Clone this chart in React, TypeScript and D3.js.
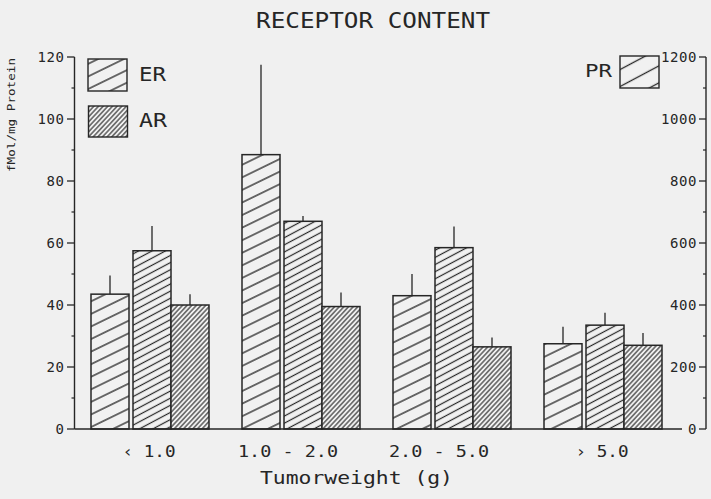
import React from "react";
import * as d3 from "d3";

// Tumour weight classes (g)
const groups = ["‹ 1.0", "1.0 - 2.0", "2.0 - 5.0", "› 5.0"];

// Receptor content, mean and standard error (fmol/mg protein)
const erMean = [43.5, 88.5, 43, 27.5];
const erSem = [6, 29, 7, 5.5];
const prMean = [575, 670, 585, 335];
const prSem = [80, 17, 68, 40];
const arMean = [40, 39.5, 26.5, 27];
const arSem = [3.5, 4.5, 3, 4];

const leftTicks = [0, 20, 40, 60, 80, 100, 120];
const leftMinor = [10, 30, 50, 70, 90, 110];
const rightTicks = [0, 200, 400, 600, 800, 1000, 1200];
const rightMinor = [100, 300, 500, 700, 900, 1100];

const W = 711;
const H = 499;
const INK = "#262626";
const FONT = "'DejaVu Sans Mono', monospace";

const x = d3.scaleBand<string>().domain(groups).range([74.5, 678.5]);
const yL = d3.scaleLinear().domain([0, 120]).range([429, 57]);
const yR = d3.scaleLinear().domain([0, 1200]).range([429, 57]);

type Series = {
  key: string;
  mean: number[];
  sem: number[];
  scale: d3.ScaleLinear<number, number>;
  pattern: string;
  offset: number;
};

const series: Series[] = [
  { key: "ER", mean: erMean, sem: erSem, scale: yL, pattern: "hatch-er", offset: 0 },
  { key: "PR", mean: prMean, sem: prSem, scale: yR, pattern: "hatch-pr", offset: 42 },
  { key: "AR", mean: arMean, sem: arSem, scale: yL, pattern: "hatch-ar", offset: 80 },
];
const BAR_W = 38;
const GROUP_W = 118;

function Hatch({ id, gap, angle, sw = 1 }: { id: string; gap: number; angle: number; sw?: number }) {
  return (
    <pattern
      id={id}
      patternUnits="userSpaceOnUse"
      width={20}
      height={gap}
      patternTransform={`rotate(${-angle})`}
    >
      <rect width={20} height={gap} fill="#f1f1f1" />
      <line x1={0} x2={20} y1={gap / 2} y2={gap / 2} stroke={INK} strokeWidth={sw} />
    </pattern>
  );
}

export default function App() {
  const baseY = yL(0);
  return (
    <svg
      width={W}
      height={H}
      viewBox={`0 0 ${W} ${H}`}
      style={{ position: "absolute", left: 0, top: 0, display: "block" }}
    >
      <defs>
        <Hatch id="hatch-er" gap={11.3} angle={26} sw={1.3} />
        <Hatch id="hatch-pr" gap={6.3} angle={28} sw={1.2} />
        <Hatch id="hatch-ar" gap={3.4} angle={47} sw={1.1} />
        <Hatch id="hatch-pr-key" gap={15} angle={28} sw={1.3} />
      </defs>
      <rect width={W} height={H} fill="#f0f0f0" />

      {/* title */}
      <text x={373} y={28} textAnchor="middle" fontFamily={FONT} fontSize={22} fill={INK}
        textLength={234} lengthAdjust="spacingAndGlyphs">
        RECEPTOR CONTENT
      </text>

      {/* bars with upward error whiskers */}
      {groups.map((g, i) => {
        const gx = (x(g) ?? 0) + x.bandwidth() / 2 - GROUP_W / 2;
        return (
          <g key={g}>
            {series.map((s) => {
              const top = s.scale(s.mean[i]);
              const cx = gx + s.offset + BAR_W / 2;
              return (
                <g key={s.key}>
                  <line x1={cx} x2={cx} y1={top} y2={s.scale(s.mean[i] + s.sem[i])}
                    stroke={INK} strokeWidth={1.3} />
                  <rect x={gx + s.offset} y={top} width={BAR_W} height={baseY - top}
                    fill={`url(#${s.pattern})`} stroke={INK} strokeWidth={1.5} />
                </g>
              );
            })}
          </g>
        );
      })}

      {/* left axis */}
      <line x1={74.5} x2={74.5} y1={yL(0)} y2={yL(120)} stroke={INK} strokeWidth={1.4} />
      {leftTicks.map((t) => (
        <g key={`l${t}`}>
          <line x1={67} x2={74.5} y1={yL(t)} y2={yL(t)} stroke={INK} strokeWidth={1.3} />
          <text x={64.5} y={yL(t)} dy="0.36em" textAnchor="end" fontFamily={FONT}
            fontSize={14} fill={INK} letterSpacing={0.6}>
            {t}
          </text>
        </g>
      ))}
      {leftMinor.map((t) => (
        <line key={`lm${t}`} x1={71.5} x2={74.5} y1={yL(t)} y2={yL(t)} stroke={INK} strokeWidth={1.2} />
      ))}
      <text transform={`translate(15,115) rotate(-90)`} textAnchor="middle" fontFamily={FONT}
        fontSize={10} fill={INK} textLength={114} lengthAdjust="spacingAndGlyphs">
        fMol/mg Protein
      </text>

      {/* right axis (PR) */}
      <line x1={706} x2={706} y1={yR(0)} y2={yR(1200)} stroke={INK} strokeWidth={1.4} />
      {rightTicks.map((t) => (
        <g key={`r${t}`}>
          <line x1={699} x2={706} y1={yR(t)} y2={yR(t)} stroke={INK} strokeWidth={1.3} />
          <text x={697} y={yR(t)} dy="0.36em" textAnchor="end" fontFamily={FONT}
            fontSize={14} fill={INK} letterSpacing={0.6}>
            {t}
          </text>
        </g>
      ))}
      {rightMinor.map((t) => (
        <line key={`rm${t}`} x1={703} x2={706} y1={yR(t)} y2={yR(t)} stroke={INK} strokeWidth={1.2} />
      ))}

      {/* category axis */}
      <line x1={74.5} x2={682} y1={baseY} y2={baseY} stroke={INK} strokeWidth={1.4} />
      {groups.map((g) => {
        const isRange = g.includes("-");
        const cx = (x(g) ?? 0) + x.bandwidth() / 2 - (isRange ? 13 : 1);
        return (
          <text key={`t${g}`} x={cx} y={457} textAnchor="middle" fontFamily={FONT} fontSize={15}
            fill={INK} textLength={isRange ? 100 : 53} lengthAdjust="spacingAndGlyphs">
            {g}
          </text>
        );
      })}
      <text x={356.5} y={484} textAnchor="middle" fontFamily={FONT} fontSize={17} fill={INK}
        textLength={193} lengthAdjust="spacingAndGlyphs">
        Tumorweight (g)
      </text>

      {/* legend */}
      <rect x={88} y={59} width={39} height={32} fill="url(#hatch-er)" stroke={INK} strokeWidth={1.4} />
      <text x={139} y={81} fontFamily={FONT} fontSize={20} fill={INK} textLength={27}
        lengthAdjust="spacingAndGlyphs">ER</text>
      <rect x={88.5} y={106} width={39} height={31} fill="url(#hatch-ar)" stroke={INK} strokeWidth={1.4} />
      <text x={139} y={127} fontFamily={FONT} fontSize={20} fill={INK} textLength={28}
        lengthAdjust="spacingAndGlyphs">AR</text>
      <rect x={620} y={56} width={39} height={32} fill="url(#hatch-pr-key)" stroke={INK} strokeWidth={1.4} />
      <text x={585} y={77} fontFamily={FONT} fontSize={18} fill={INK} textLength={27}
        lengthAdjust="spacingAndGlyphs">PR</text>
    </svg>
  );
}
